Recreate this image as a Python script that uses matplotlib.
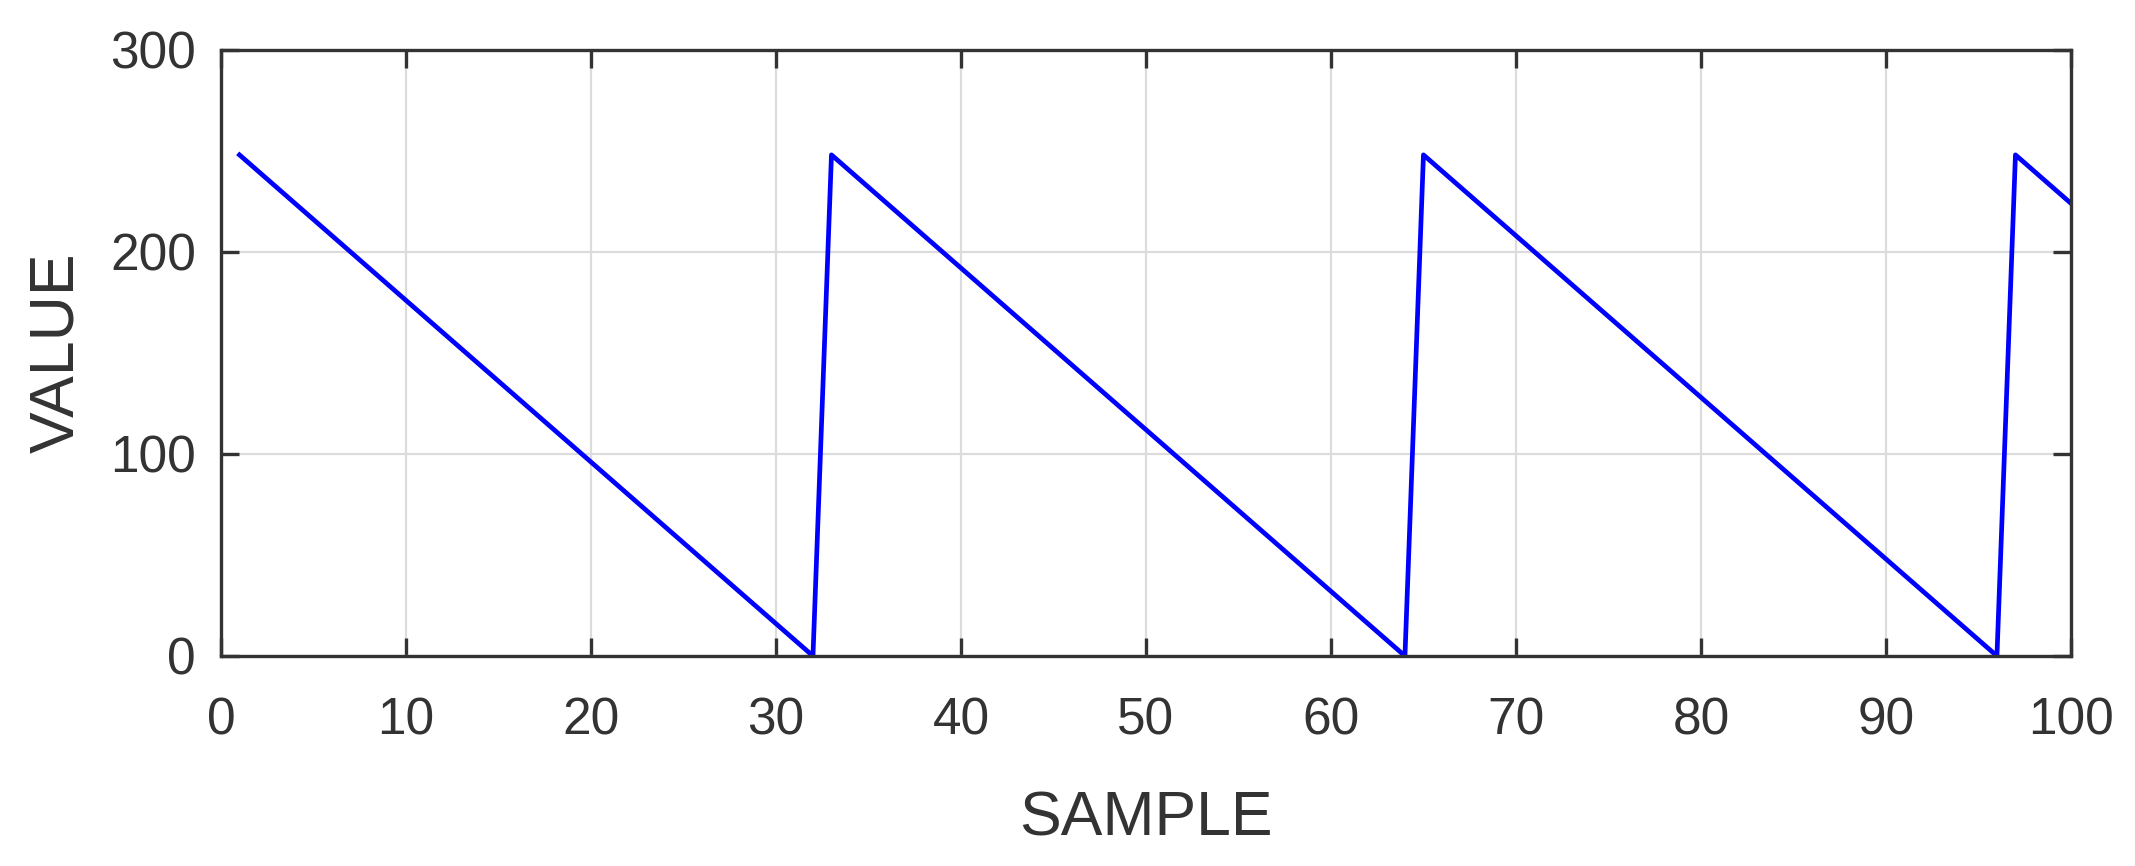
import matplotlib
matplotlib.use("Agg")
import matplotlib.pyplot as plt

# sawtooth values, one per sample 1..100
samples = list(range(1, 101))
values = [248, 240, 232, 224, 216, 208, 200, 192, 184, 176, 168, 160, 152, 144, 136, 128,
          120, 112, 104, 96, 88, 80, 72, 64, 56, 48, 40, 32, 24, 16, 8, 0,
          248, 240, 232, 224, 216, 208, 200, 192, 184, 176, 168, 160, 152, 144, 136, 128,
          120, 112, 104, 96, 88, 80, 72, 64, 56, 48, 40, 32, 24, 16, 8, 0,
          248, 240, 232, 224, 216, 208, 200, 192, 184, 176, 168, 160, 152, 144, 136, 128,
          120, 112, 104, 96, 88, 80, 72, 64, 56, 48, 40, 32, 24, 16, 8, 0,
          248, 240, 232, 224]
xticks = [0, 10, 20, 30, 40, 50, 60, 70, 80, 90, 100]
yticks = [0, 100, 200, 300]

plt.rcParams['font.family'] = ['Liberation Sans', 'DejaVu Sans']
txt = "#333333"

fig = plt.figure(figsize=(21.35, 8.66), dpi=100)
ax = fig.add_axes([0.1035, 0.2425, 0.8665, 0.700])

ax.plot(samples, values, color=(0, 0, 1), linewidth=3.4)

ax.set_xlim(0, 100)
ax.set_ylim(0, 300)
ax.set_xticks(xticks)
ax.set_yticks(yticks)
ax.grid(True, color="#dcdcdc", linewidth=1.6)
ax.set_axisbelow(True)

for s in ax.spines.values():
    s.set_linewidth(2.4)
    s.set_color(txt)
ax.tick_params(direction="in", length=13, width=2.4, color=txt, labelcolor=txt,
               labelsize=37, top=True, right=True)
ax.tick_params(axis="x", pad=29)
ax.tick_params(axis="y", pad=18)

ax.set_xlabel("SAMPLE", fontsize=45, color=txt, labelpad=32)
ax.set_ylabel("VALUE", fontsize=45, color=txt, labelpad=17)

fig.savefig("out.png", dpi=100)
